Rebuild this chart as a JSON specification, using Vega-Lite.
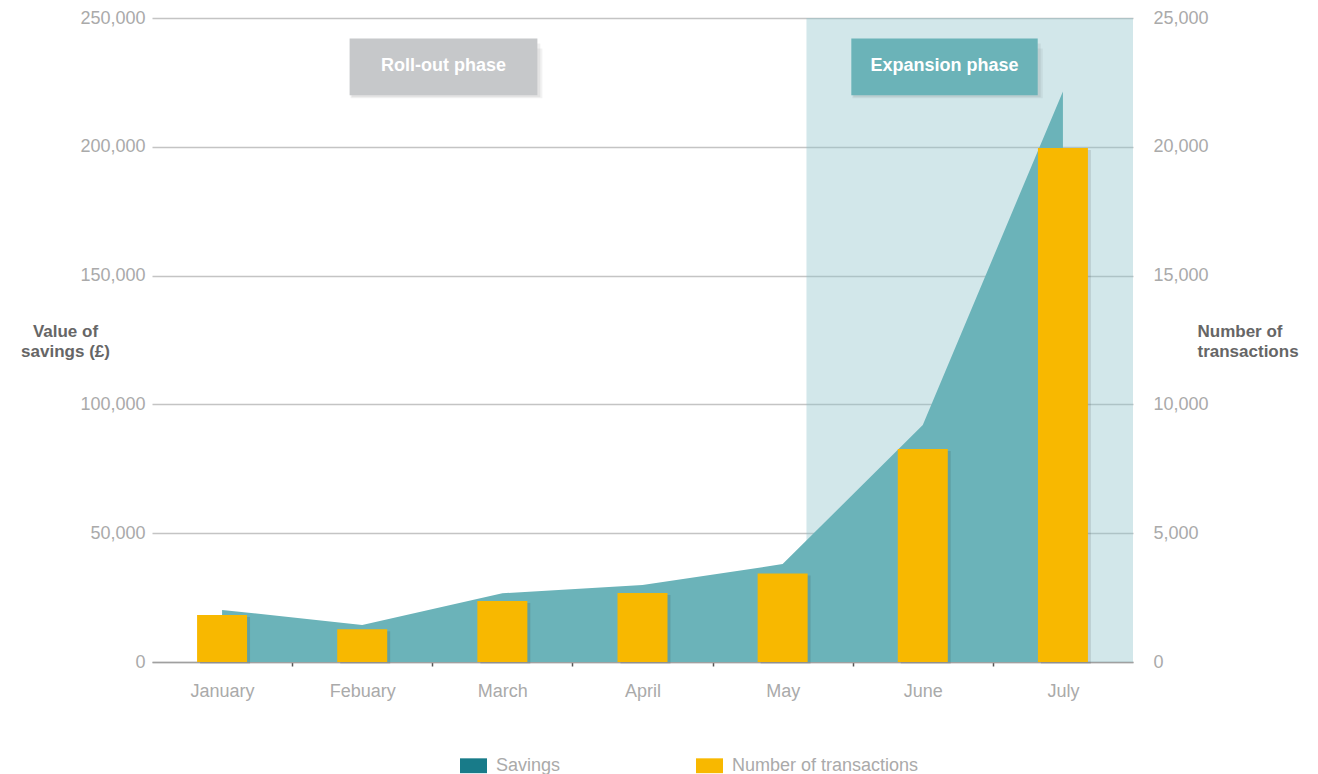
{
  "$schema": "https://vega.github.io/schema/vega-lite/v6.json",
  "width": 981,
  "height": 644,
  "autosize": {"type": "none"},
  "padding": {"left": 152, "top": 18, "right": 185, "bottom": 112},
  "background": "white",
  "config": {
    "view": {"stroke": null},
    "font": "Liberation Sans",
    "axis": {"labelFont": "Liberation Sans", "titleFont": "Liberation Sans"},
    "legend": {"labelFont": "Liberation Sans"}
  },
  "datasets": {
    "months": [
      {"month": "January", "idx": 0, "savings": 20200, "transactions": 1820},
      {"month": "Febuary", "idx": 1, "savings": 14400, "transactions": 1270},
      {"month": "March", "idx": 2, "savings": 26700, "transactions": 2370},
      {"month": "April", "idx": 3, "savings": 29900, "transactions": 2680},
      {"month": "May", "idx": 4, "savings": 38000, "transactions": 3440},
      {"month": "June", "idx": 5, "savings": 92000, "transactions": 8270},
      {"month": "July", "idx": 6, "savings": 221500, "transactions": 19950}
    ],
    "region": [
      {"phase": "Expansion phase", "start": 4.17, "end": 6.5}
    ],
    "phases": [
      {"phase": "Roll-out phase", "from": 0.91, "to": 2.25, "center": 1.58},
      {"phase": "Expansion phase", "from": 4.49, "to": 5.82, "center": 5.155}
    ]
  },
  "layer": [
    {
      "layer": [
        {
          "data": {"name": "region"},
          "mark": {"type": "rect", "color": "#8fc3cb", "opacity": 0.4},
          "encoding": {
            "x": {"field": "start", "type": "quantitative", "scale": {"domain": [-0.5, 6.5], "nice": false, "zero": false, "padding": 0}},
            "x2": {"field": "end"},
            "y": {"datum": 0, "type": "quantitative", "scale": {"domain": [0, 250000], "nice": false}},
            "y2": {"datum": 250000}
          }
        },
        {
          "data": {"name": "months"},
          "mark": {"type": "area", "color": "#6bb3b9", "opacity": 1},
          "encoding": {
            "x": {
              "field": "idx", "type": "quantitative",
              "scale": {"domain": [-0.5, 6.5], "nice": false, "zero": false, "padding": 0},
              "axis": {
                "values": [0, 0.5, 1, 1.5, 2, 2.5, 3, 3.5, 4, 4.5, 5, 5.5, 6],
                "labelExpr": "datum.value % 1 === 0 ? ['January','Febuary','March','April','May','June','July'][datum.value] : ''",
                "title": null,
                "grid": false,
                "domainColor": "#a0a0a0",
                "domainWidth": 1.5,
                "tickSize": 4,
                "tickColor": "#555555",
                "tickWidth": 1.5,
                "tickOpacity": {"condition": {"test": "datum.value % 1 === 0", "value": 0}, "value": 1},
                "labelColor": "#aaaaaa",
                "labelFontSize": 18,
                "labelPadding": 16,
                "labelOverlap": false,
                "labelFlush": false
              }
            },
            "y": {
              "field": "savings", "type": "quantitative",
              "scale": {"domain": [0, 250000], "nice": false},
              "axis": {
                "values": [0, 50000, 100000, 150000, 200000, 250000],
                "format": ",.0f",
                "grid": true,
                "gridColor": "#c4c4c4",
                "gridWidth": 1.5,
                "domain": false,
                "ticks": false,
                "labelColor": "#aaaaaa",
                "labelFontSize": 18,
                "labelPadding": 7,
                "title": ["Value of", "savings (£)"],
                "titleAngle": 0,
                "titleAlign": "center",
                "titleBaseline": "top",
                "titleX": -87,
                "titleY": 305,
                "titleFontSize": 17,
                "titleFontWeight": "bold",
                "titleColor": "#666666",
                "titleLineHeight": 20
              }
            }
          }
        },
        {
          "data": {"name": "phases"},
          "mark": {"type": "rect", "color": "#000000", "opacity": 0.05, "xOffset": 1, "x2Offset": 5, "yOffset": 3, "y2Offset": 10},
          "encoding": {
            "x": {"field": "from", "type": "quantitative"},
            "x2": {"field": "to"},
            "y": {"datum": 220000, "type": "quantitative"},
            "y2": {"datum": 242000}
          }
        },
        {
          "data": {"name": "phases"},
          "mark": {"type": "rect", "color": "#000000", "opacity": 0.06, "xOffset": 2, "x2Offset": 3, "yOffset": 2, "y2Offset": 5},
          "encoding": {
            "x": {"field": "from", "type": "quantitative"},
            "x2": {"field": "to"},
            "y": {"datum": 220000, "type": "quantitative"},
            "y2": {"datum": 242000}
          }
        },
        {
          "data": {"name": "phases"},
          "mark": {"type": "rect"},
          "encoding": {
            "x": {"field": "from", "type": "quantitative"},
            "x2": {"field": "to"},
            "y": {"datum": 220000, "type": "quantitative"},
            "y2": {"datum": 242000},
            "color": {"field": "phase", "type": "nominal", "scale": {"domain": ["Roll-out phase", "Expansion phase"], "range": ["#c6c8ca", "#6bb3b8"]}, "legend": null}
          }
        },
        {
          "data": {"name": "phases"},
          "mark": {"type": "text", "color": "white", "fontSize": 18, "fontWeight": "bold", "align": "center", "baseline": "middle", "dy": -1},
          "encoding": {
            "x": {"field": "center", "type": "quantitative"},
            "y": {"datum": 231000, "type": "quantitative"},
            "text": {"field": "phase"}
          }
        }
      ]
    },
    {
      "data": {"name": "months"},
      "layer": [
        {
          "mark": {"type": "bar", "size": 50, "color": "#000000", "opacity": 0.1, "xOffset": 3, "y2Offset": 4, "yOffset": 2},
          "encoding": {
            "x": {"field": "idx", "type": "quantitative"},
            "y": {"field": "transactions", "type": "quantitative", "scale": {"domain": [0, 25000], "nice": false}}
          }
        },
        {
          "mark": {"type": "bar", "size": 50},
          "encoding": {
            "x": {"field": "idx", "type": "quantitative"},
            "y": {
              "field": "transactions", "type": "quantitative",
              "scale": {"domain": [0, 25000], "nice": false},
              "axis": {
                "orient": "right",
                "values": [0, 5000, 10000, 15000, 20000, 25000],
                "format": ",.0f",
                "grid": false,
                "domain": false,
                "ticks": false,
                "labelColor": "#aaaaaa",
                "labelFontSize": 18,
                "labelPadding": 20,
                "title": ["Number of", "transactions"],
                "titleAngle": 0,
                "titleAlign": "left",
                "titleBaseline": "top",
                "titleX": 64,
                "titleY": 305,
                "titleFontSize": 17,
                "titleFontWeight": "bold",
                "titleColor": "#666666",
                "titleLineHeight": 20
              }
            },
            "color": {
              "datum": "Number of transactions",
              "scale": {"domain": ["Savings", "Number of transactions"], "range": ["#187b89", "#f8b800"]},
              "legend": {
                "title": null,
                "orient": "none",
                "direction": "horizontal",
                "legendX": 308,
                "legendY": 734,
                "symbolType": "M-1,-0.55H1V0.55H-1Z",
                "symbolSize": 729,
                "symbolStrokeWidth": 0,
                "symbolOpacity": 1,
                "labelFontSize": 18,
                "labelLimit": 400,
                "labelColor": "#aaaaaa",
                "labelOffset": 9,
                "columnPadding": 135,
                "padding": 0
              }
            }
          }
        }
      ]
    }
  ],
  "resolve": {"scale": {"y": "independent", "color": "independent"}}
}
